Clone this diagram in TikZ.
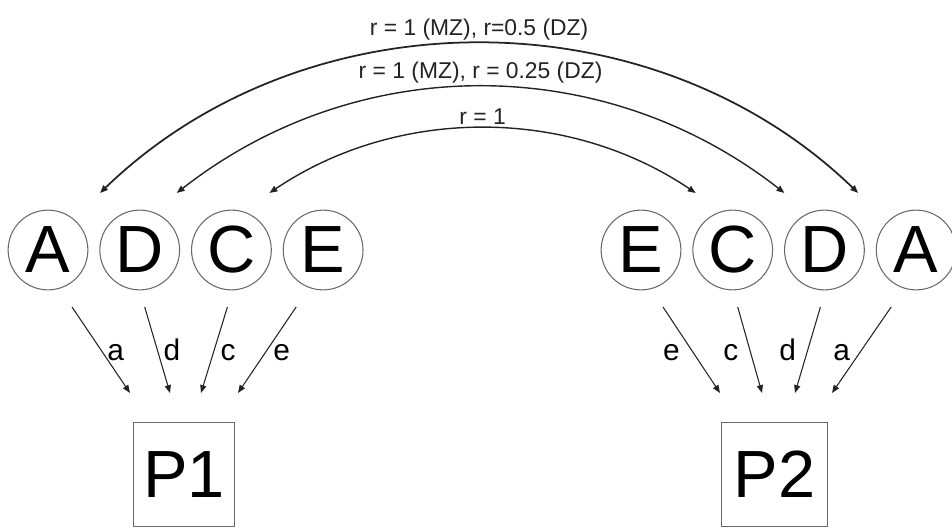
\documentclass[tikz,border=0pt]{standalone}
\usepackage{fontspec}
\setmainfont{Liberation Sans}
\usepackage{tikz}
\usetikzlibrary{arrows.meta, positioning, calc}
\definecolor{ringgray}{RGB}{105,105,105}
\definecolor{inkgray}{RGB}{35,35,35}

\begin{document}
\begin{tikzpicture}[x=0.02cm, y=0.02cm,
  >={Triangle[length=4.5pt, width=3.5pt]},
  factor/.style={circle, draw=ringgray, line width=0.6pt, inner sep=0pt,
    minimum size=45.4pt, font=\fontsize{38}{38}\selectfont},
  pheno/.style={rectangle, draw=ringgray, line width=0.6pt, inner sep=0pt,
    minimum width=58pt, minimum height=59.5pt, font=\fontsize{38}{38}\selectfont},
  load/.style={->, draw=inkgray, line width=0.6pt},
  corr/.style={<->, draw=inkgray, line width=0.8pt},
  lab/.style={font=\fontsize{17}{17}\selectfont, text height=12.3pt, text depth=0pt},
  toplab/.style={font=\fontsize{13}{13}\selectfont, text=inkgray, inner sep=1.5pt}]
  \useasboundingbox (0,0) rectangle (952,528);
  % twin 1
  \node[factor] (A1) at (48,278) {A};
  \node[factor, right=6.2pt of A1] (D1) {D};
  \node[factor, right=6.2pt of D1] (C1) {C};
  \node[factor, right=6.2pt of C1] (E1) {E};
  \node[pheno] (P1) at (184,53.5) {P1};
  % twin 2
  \node[factor] (E2) at (641,278) {E};
  \node[factor, right=6.2pt of E2] (C2) {C};
  \node[factor, right=6.2pt of C2] (D2) {D};
  \node[factor, right=6.2pt of D2] (A2) {A};
  \node[pheno, minimum width=60.5pt] (P2) at (774.5,53.5) {P2};
  % arrow ends
  \coordinate (a1s) at ($(A1)+(24,-57)$);  \coordinate (a1e) at ($(P1)+(-54,81.5)$);
  \coordinate (d1s) at ($(D1)+(5,-57)$);   \coordinate (d1e) at ($(P1)+(-14,81.5)$);
  \coordinate (c1s) at ($(C1)+(-4,-57)$);  \coordinate (c1e) at ($(P1)+(17,81.5)$);
  \coordinate (e1s) at ($(E1)+(-27,-57)$); \coordinate (e1e) at ($(P1)+(54,81.5)$);
  \coordinate (e2s) at ($(E2)+(22,-57)$);  \coordinate (e2e) at ($(P2)+(-54.5,81.5)$);
  \coordinate (c2s) at ($(C2)+(5,-57)$);   \coordinate (c2e) at ($(P2)+(-12.5,81.5)$);
  \coordinate (d2s) at ($(D2)+(-4,-57)$);  \coordinate (d2e) at ($(P2)+(20.5,81.5)$);
  \coordinate (a2s) at ($(A2)+(-25,-57)$); \coordinate (a2e) at ($(P2)+(57.5,81.5)$);
  \coordinate (oA1) at ($(A1)+(52,57)$);   \coordinate (oA2) at ($(A2)+(-58,57)$);
  \coordinate (oD1) at ($(D1)+(37,57)$);   \coordinate (oD2) at ($(D2)+(-40,57)$);
  \coordinate (oC1) at ($(C1)+(38,57)$);   \coordinate (oC2) at ($(C2)+(-37,57)$);
  % paths to phenotypes
  \draw[load] (a1s) -- node[right, lab] {a} (a1e);
  \draw[load] (d1s) -- node[right, lab] {d} (d1e);
  \draw[load] (c1s) -- node[right, lab] {c} (c1e);
  \draw[load] (e1s) -- node[right, lab] {e} (e1e);
  \draw[load] (e2s) -- node[left=3pt, lab] {e} (e2e);
  \draw[load] (c2s) -- node[left=3pt, lab] {c} (c2e);
  \draw[load] (d2s) -- node[left=3pt, lab] {d} (d2e);
  \draw[load] (a2s) -- node[left=3pt, lab] {a} (a2e);
  % twin correlations
  \draw[corr, line width=1pt] (oA1) to[bend left=44, looseness=0.97] node[above, toplab] {r = 1 (MZ), r=0.5 (DZ)} (oA2);
  \draw[corr] (oD1) to[bend left=38, looseness=0.97] node[above, toplab] {r = 1 (MZ), r = 0.25 (DZ)} (oD2);
  \draw[corr] (oC1) to[bend left=34, looseness=0.93] node[above, toplab] {r = 1} (oC2);
\end{tikzpicture}
\end{document}
